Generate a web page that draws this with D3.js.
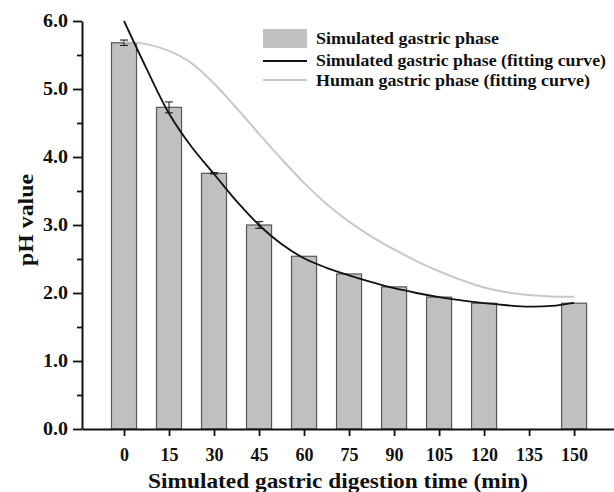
<!DOCTYPE html>
<html>
<head>
<meta charset="utf-8">
<script src="https://cdn.jsdelivr.net/npm/d3@7"></script>
<style>
  html, body { margin: 0; padding: 0; background: #fff; }
  svg { display: block; }
  text { font-family: "Liberation Serif", "Times New Roman", serif; font-weight: bold; fill: #111; }
</style>
</head>
<body>
<svg id="chart" width="614" height="492"></svg>
<script>
// Sampling times (min) and measured pH of the simulated gastric phase
const times = [0, 15, 30, 45, 60, 75, 90, 105, 120, 150];
const phMeans = [5.68, 4.73, 3.76, 3.00, 2.54, 2.28, 2.09, 1.94, 1.85, 1.85];
const phErrors = [0.04, 0.08, 0.01, 0.05, 0, 0, 0, 0, 0, 0];

// Fitted curve of the simulated gastric phase (min, pH)
const simFitTimes = [0, 7.5, 15, 22.5, 30, 37.5, 45, 52.5, 60, 67.5, 75, 82.5, 90, 97.5, 105, 112.5, 120, 127.5, 135, 142.5, 150];
const simFitPh = [6.00, 5.30, 4.64, 4.15, 3.75, 3.35, 3.00, 2.72, 2.51, 2.37, 2.26, 2.16, 2.07, 2.00, 1.94, 1.89, 1.85, 1.82, 1.80, 1.81, 1.855];

// Fitted curve of the human gastric phase (min, pH)
const humanFitTimes = [0, 7.5, 15, 22.5, 30, 37.5, 45, 52.5, 60, 67.5, 75, 82.5, 90, 97.5, 105, 112.5, 120, 127.5, 135, 142.5, 150];
const humanFitPh = [5.69, 5.66, 5.56, 5.38, 5.08, 4.72, 4.34, 3.97, 3.62, 3.31, 3.05, 2.83, 2.64, 2.47, 2.32, 2.19, 2.08, 2.01, 1.97, 1.95, 1.945];

// Axis ticks
const xTicks = [0, 15, 30, 45, 60, 75, 90, 105, 120, 135, 150];
const yTicks = [0, 1, 2, 3, 4, 5, 6];
const yMinorTicks = [0.5, 1.5, 2.5, 3.5, 4.5, 5.5];

const legendLabels = [
  "Simulated gastric phase",
  "Simulated gastric phase (fitting curve)",
  "Human gastric phase (fitting curve)"
];

const svg = d3.select("#chart");

const x = d3.scaleLinear().domain([-14, 163.3]).range([82, 614]);
const y = d3.scaleLinear().domain([0, 6]).range([429, 21]);
const barHalf = 4.17; // half bar width in minutes

const BAR_FILL = "#c0c0c0";
const BAR_STROKE = "#575757";

// Bars
svg.append("g").selectAll("rect")
  .data(times.map((t, i) => ({ t, v: phMeans[i], e: phErrors[i] })))
  .join("rect")
  .attr("x", d => x(d.t - barHalf))
  .attr("y", d => y(d.v))
  .attr("width", d => x(d.t + barHalf) - x(d.t - barHalf))
  .attr("height", d => y(0) - y(d.v))
  .attr("fill", BAR_FILL)
  .attr("stroke", BAR_STROKE)
  .attr("stroke-width", 1.2);

// Error bars
const errG = svg.append("g").attr("stroke", "#222").attr("stroke-width", 1.1);
times.forEach((t, i) => {
  const e = phErrors[i];
  if (!e) return;
  const cx = x(t), hi = y(phMeans[i] + e), lo = y(phMeans[i] - e);
  const cap = 4;
  errG.append("line").attr("x1", cx).attr("x2", cx).attr("y1", hi).attr("y2", lo);
  errG.append("line").attr("x1", cx - cap).attr("x2", cx + cap).attr("y1", hi).attr("y2", hi);
  errG.append("line").attr("x1", cx - cap).attr("x2", cx + cap).attr("y1", lo).attr("y2", lo);
});

// Fitting curves
const line = d3.line().x(d => x(d[0])).y(d => y(d[1])).curve(d3.curveCatmullRom.alpha(0.5));

svg.append("path")
  .datum(humanFitTimes.map((t, i) => [t, humanFitPh[i]]))
  .attr("d", line)
  .attr("fill", "none")
  .attr("stroke", "#c8c8c8")
  .attr("stroke-width", 2);

svg.append("path")
  .datum(simFitTimes.map((t, i) => [t, simFitPh[i]]))
  .attr("d", line)
  .attr("fill", "none")
  .attr("stroke", "#111")
  .attr("stroke-width", 1.8);

// Axes
function styleAxis(g) {
  g.attr("font-family", null).attr("font-size", null);
  g.select(".domain").attr("stroke", "#111").attr("stroke-width", 2);
  g.selectAll(".tick line").attr("stroke", "#111").attr("stroke-width", 1.8);
  g.selectAll(".tick text").style("font-size", "18px").attr("fill", "#111");
}

svg.append("g")
  .attr("transform", "translate(82,0)")
  .call(d3.axisLeft(y).tickValues(yMinorTicks).tickSize(5).tickSizeOuter(0).tickFormat(""))
  .call(g => { g.select(".domain").remove(); g.selectAll(".tick line").attr("stroke", "#111").attr("stroke-width", 1.8); });

svg.append("g")
  .attr("transform", "translate(82,0)")
  .call(d3.axisLeft(y).tickValues(yTicks).tickSize(9).tickSizeOuter(0).tickPadding(5).tickFormat(d3.format(".1f")))
  .call(styleAxis)
  .call(g => g.selectAll(".tick text").attr("textLength", 25).attr("lengthAdjust", "spacingAndGlyphs"));

svg.append("g")
  .attr("transform", "translate(0,429)")
  .call(d3.axisBottom(x).tickValues(xTicks).tickSize(7).tickSizeOuter(0).tickPadding(12).tickFormat(d3.format("d")))
  .call(styleAxis);

// Axis titles
svg.append("text")
  .attr("x", 338).attr("y", 488)
  .attr("text-anchor", "middle")
  .attr("textLength", 380).attr("lengthAdjust", "spacingAndGlyphs")
  .style("font-size", "22px")
  .text("Simulated gastric digestion time (min)");

svg.append("text")
  .attr("transform", "translate(33,220) rotate(-90)")
  .attr("text-anchor", "middle")
  .attr("textLength", 92).attr("lengthAdjust", "spacingAndGlyphs")
  .style("font-size", "21px")
  .text("pH value");

// Legend
const lg = svg.append("g");
lg.append("rect").attr("x", 263).attr("y", 29).attr("width", 44).attr("height", 19).attr("fill", BAR_FILL);
lg.append("line").attr("x1", 263).attr("x2", 307).attr("y1", 61).attr("y2", 61).attr("stroke", "#111").attr("stroke-width", 2);
lg.append("line").attr("x1", 263).attr("x2", 307).attr("y1", 80).attr("y2", 80).attr("stroke", "#c8c8c8").attr("stroke-width", 2);
const legendY = [44, 66, 86];
const legendLen = [183, 290, 274];
legendLabels.forEach((s, i) => {
  lg.append("text")
    .attr("x", 316).attr("y", legendY[i])
    .attr("textLength", legendLen[i]).attr("lengthAdjust", "spacingAndGlyphs")
    .style("font-size", "17px")
    .text(s);
});
</script>
</body>
</html>
